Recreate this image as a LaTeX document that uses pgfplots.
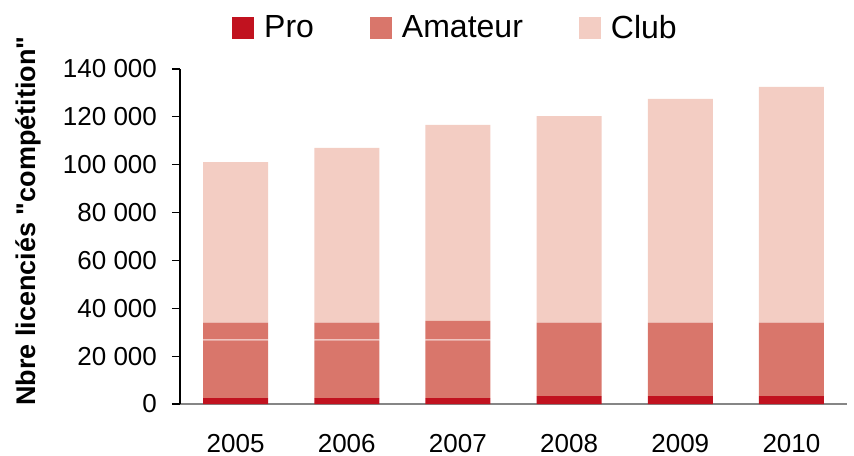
\documentclass[border=0pt]{standalone}
\usepackage{pgfplots}
\pgfplotsset{compat=1.18}
\usepackage{fontspec}
\setmainfont{Liberation Sans}
\definecolor{cPro}{RGB}{193,18,31}
\definecolor{cAma}{RGB}{217,118,107}
\definecolor{cClub}{RGB}{243,205,195}
\definecolor{cAxis}{RGB}{134,134,134}
\begin{document}
\begin{tikzpicture}
\useasboundingbox (-90pt,-25.5pt) rectangle (337pt,202pt);
\begin{axis}[
  at={(0pt,0pt)}, anchor=south west,
  scale only axis, width=333.5pt, height=167.5pt,
  ybar stacked, bar width=32.5pt,
  xmin=-0.5, xmax=5.5, ymin=0, ymax=140000,
  axis lines*=left,
  x axis line style={cAxis, line width=0.9pt},
  y axis line style={black, line width=0.6pt},
  xtick={0,...,5}, xticklabels={2005,2006,2007,2008,2009,2010},
  x tick style={draw=none},
  extra x ticks={-0.5,0.5,1.5,2.5,3.5,4.5,5.5},
  extra x tick labels={},
  extra x tick style={major tick length=4.5pt, tick align=outside, tick style={draw=cAxis, line width=0.9pt}},
  ytick={0,20000,...,140000},
  y tick style={black, line width=0.6pt},
  major tick length=4pt, tick align=outside,
  scaled y ticks=false,
  /pgf/number format/fixed,
  /pgf/number format/precision=0,
  /pgf/number format/1000 sep={~},
  /pgf/number format/assume math mode=true,
  tick label style={font=\fontsize{13}{15}\selectfont},
  yticklabel style={xshift=-4pt},
  xticklabel style={yshift=-7.5pt},
  ylabel={Nbre licenciés \textquotedbl compétition\textquotedbl},
  ylabel style={font=\fontsize{13.5}{16}\selectfont\bfseries, at={(axis description cs:-0.228,0.546)}, anchor=center},
  legend columns=3,
  legend style={draw=none, fill=none, at={(0.4145,1.121)}, anchor=center,
    font=\fontsize{16}{19}\selectfont,
    /tikz/every odd column/.append style={column sep=3pt},
    /tikz/every even column/.append style={column sep=26pt}},
  legend image code/.code={\fill[#1] (0pt,-5.5pt) rectangle (11pt,5.5pt);},
]
\addplot[fill=cPro, draw=none] coordinates {(0,2500) (1,2500) (2,2500) (3,3300) (4,3300) (5,3300)};
\addlegendentry{Pro}
\addplot[fill=cAma, draw=none, forget plot] coordinates {(0,24100) (1,24100) (2,24100) (3,30700) (4,30700) (5,30700)};
\addplot[fill=white, draw=none, forget plot] coordinates {(0,300) (1,300) (2,300) (3,0) (4,0) (5,0)};
\addplot[fill=cAma, draw=none] coordinates {(0,7100) (1,7100) (2,7800) (3,0) (4,0) (5,0)};
\addlegendentry{Amateur}
\addplot[fill=cClub, draw=none] coordinates {(0,67100) (1,73000) (2,81900) (3,86300) (4,93500) (5,98500)};
\addlegendentry{Club}
\end{axis}
\end{tikzpicture}
\end{document}
